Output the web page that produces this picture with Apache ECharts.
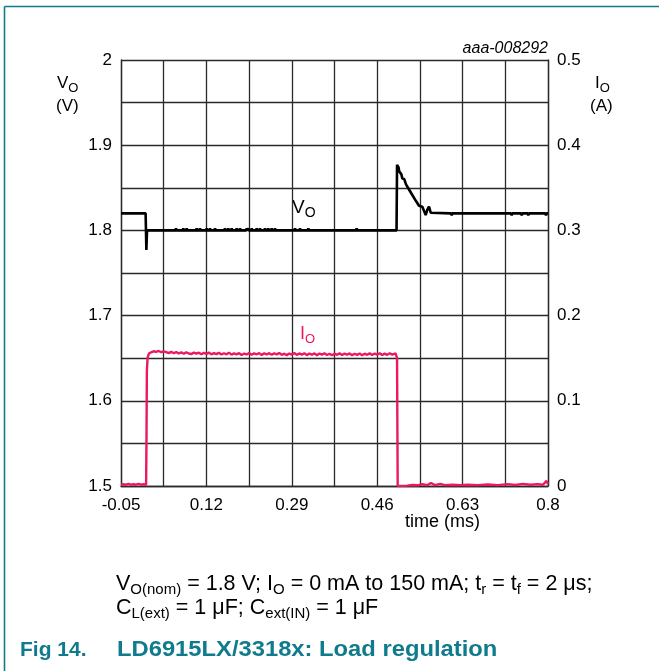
<!DOCTYPE html>
<html>
<head>
<meta charset="utf-8">
<script src="https://cdn.jsdelivr.net/npm/echarts@6/dist/echarts.min.js"></script>
<style>
html,body{margin:0;padding:0;background:#fff;}
#chart{width:659px;height:671px;}
</style>
</head>
<body>
<div id="chart"></div>
<script>
// ---- axis definitions ----
const xMin = -0.05, xMax = 0.8, xStep = 0.085;
const xTickLabels = ['-0.05', '0.12', '0.29', '0.46', '0.63', '0.8'];
const vMin = 1.5, vMax = 2.0, vStep = 0.05;
const vTickLabels = ['1.5', '1.6', '1.7', '1.8', '1.9', '2'];
const iMin = 0, iMax = 0.5, iStep = 0.05;
const iTickLabels = ['0', '0.1', '0.2', '0.3', '0.4', '0.5'];

// ---- V_O trace (time ms, volts) ----
const vOStart = [[-0.05, 1.82], [-0.001, 1.82], [0.0005, 1.777], [0.0018, 1.80], [0.05, 1.80]];
const vOBumpTimes = [0.0595, 0.074, 0.0808, 0.1007, 0.1073, 0.1206, 0.1272, 0.1372, 0.157, 0.1636,
  0.1704, 0.1803, 0.1869, 0.2002, 0.2034, 0.2102, 0.2201, 0.2267, 0.2367, 0.2432, 0.25, 0.2566,
  0.2964, 0.3063, 0.3229, 0.4192];
const vOBumpValue = 1.8025;
const vOTransient = [[0.4985, 1.80], [0.4995, 1.877], [0.5025, 1.874], [0.504, 1.869], [0.508, 1.866],
  [0.510, 1.861], [0.514, 1.860], [0.5173, 1.854], [0.5210, 1.852], [0.5233, 1.848], [0.5270, 1.8465],
  [0.5299, 1.8415], [0.5335, 1.840], [0.5366, 1.835], [0.5400, 1.8335], [0.5432, 1.829],
  [0.5498, 1.8279], [0.5565, 1.818], [0.5597, 1.824], [0.5631, 1.828], [0.5665, 1.8208]];
const vODipTimes = [0.6083, 0.7277, 0.7477, 0.7608, 0.796];
const vODipValue = 1.8175;
const vOLevelEnd = 1.82;

// ---- I_O trace (time ms, amps) ----
const iOData = [
  [-0.05, 0.0015], [-0.045, 0.002], [-0.04, 0.0015], [-0.035, 0.0025], [-0.03, 0.0015], [-0.025, 0.002],
  [-0.02, 0.0015], [-0.015, 0.0025], [-0.01, 0.0015], [-0.005, 0.002], [0.0, 0.0015],
  [0.0008, 0.06], [0.0015, 0.135], [0.003, 0.151], [0.006, 0.1558],
  [0.01, 0.1568], [0.015, 0.1582], [0.02, 0.1575], [0.025, 0.1585], [0.03, 0.1570], [0.035, 0.1580],
  [0.04, 0.1572], [0.045, 0.1560], [0.05, 0.1575], [0.055, 0.1558], [0.06, 0.1572], [0.065, 0.1555],
  [0.07, 0.1568], [0.075, 0.1552], [0.08, 0.1570], [0.085, 0.1555], [0.09, 0.1548], [0.095, 0.1566],
  [0.10, 0.1553], [0.105, 0.1565], [0.11, 0.1547], [0.115, 0.1562], [0.12, 0.1550], [0.125, 0.1566],
  [0.13, 0.1545], [0.135, 0.1560], [0.14, 0.1548], [0.145, 0.1563], [0.15, 0.1543], [0.155, 0.1558],
  [0.16, 0.1546], [0.165, 0.1565], [0.17, 0.1542], [0.175, 0.1556], [0.18, 0.1545], [0.185, 0.1560],
  [0.19, 0.1538], [0.195, 0.1555], [0.20, 0.1544], [0.205, 0.1562], [0.21, 0.1541], [0.215, 0.1556],
  [0.22, 0.1546], [0.225, 0.1560], [0.23, 0.1538], [0.235, 0.1557], [0.24, 0.1544], [0.245, 0.1559],
  [0.25, 0.1540], [0.255, 0.1556], [0.26, 0.1545], [0.265, 0.1562], [0.27, 0.1540], [0.275, 0.1553],
  [0.28, 0.1536], [0.285, 0.1555], [0.29, 0.1543], [0.295, 0.1560], [0.30, 0.1539], [0.305, 0.1556],
  [0.31, 0.1542], [0.315, 0.1558], [0.32, 0.1536], [0.325, 0.1554], [0.33, 0.1541], [0.335, 0.1557],
  [0.34, 0.1535], [0.345, 0.1555], [0.35, 0.1542], [0.355, 0.1558], [0.36, 0.1538], [0.365, 0.1552],
  [0.37, 0.1535], [0.375, 0.1553], [0.38, 0.1540], [0.385, 0.1557], [0.39, 0.1537], [0.395, 0.1554],
  [0.40, 0.1541], [0.405, 0.1556], [0.41, 0.1536], [0.415, 0.1552], [0.42, 0.1539], [0.425, 0.1556],
  [0.43, 0.1535], [0.435, 0.1553], [0.44, 0.1540], [0.445, 0.1557], [0.45, 0.1538], [0.455, 0.1555],
  [0.46, 0.1541], [0.465, 0.1558], [0.47, 0.1537], [0.475, 0.1554], [0.48, 0.1540], [0.485, 0.1558],
  [0.49, 0.1542], [0.4965, 0.1558], [0.4995, 0.150], [0.5008, 0.0],
  [0.52, 0.0005], [0.53, 0.0012], [0.54, 0.0008], [0.55, 0.002], [0.56, 0.001], [0.567, 0.0035],
  [0.575, 0.001], [0.585, 0.0025], [0.595, 0.001], [0.61, 0.0015], [0.625, 0.001], [0.64, 0.0015],
  [0.66, 0.001], [0.68, 0.0018], [0.70, 0.001], [0.72, 0.0022], [0.735, 0.0012], [0.75, 0.0025],
  [0.765, 0.0015], [0.78, 0.0022], [0.79, 0.0015], [0.797, 0.006], [0.8, 0.002]
];

// ---- build V_O series data ----
const vOData = [];
vOStart.forEach(p => vOData.push(p));
vOBumpTimes.forEach(t => {
  vOData.push([t - 0.0012, 1.80]);
  vOData.push([t, vOBumpValue]);
  vOData.push([t + 0.0012, 1.80]);
});
vOTransient.forEach(p => vOData.push(p));
vODipTimes.forEach(t => {
  vOData.push([t - 0.0012, vOLevelEnd]);
  vOData.push([t, vODipValue]);
  vOData.push([t + 0.0012, vOLevelEnd]);
});
vOData.push([xMax, vOLevelEnd]);

// x values shifted so the axis min is a multiple of the interval
const shift = v => +(v - xMin).toFixed(6);
const vOPlot = vOData.map(p => [shift(p[0]), p[1]]);
const iOPlot = iOData.map(p => [shift(p[0]), p[1]]);

const FONT = '"Liberation Sans", Arial, sans-serif';
const gridCol = '#2a2a2a';
const pink = '#eb1862';
const teal = '#0f7b8d';

const chart = echarts.init(document.getElementById('chart'));

function subText(x, y, main, sub, size, subSize, color) {
  return {
    type: 'text', left: x, top: y, silent: true,
    style: {
      text: '{m|' + main + '}{s|' + sub + '}',
      rich: {
        m: { fontSize: size, fontFamily: FONT, fill: color, lineHeight: size + 6, verticalAlign: 'middle' },
        s: { fontSize: subSize, fontFamily: FONT, fill: color, lineHeight: size + 6, verticalAlign: 'bottom' }
      }
    }
  };
}

const capRich = {
  m: { fontSize: 21.5, fontFamily: FONT, fill: '#000', lineHeight: 26, verticalAlign: 'middle' },
  s: { fontSize: 15, fontFamily: FONT, fill: '#000', lineHeight: 26, verticalAlign: 'bottom' }
};

const option = {
  backgroundColor: '#fff',
  animation: false,
  grid: { left: 121, top: 60, width: 427, height: 426, containLabel: false },
  xAxis: {
    type: 'value', min: 0, max: +(xMax - xMin).toFixed(6), interval: xStep,
    axisLine: { show: true, onZero: false, lineStyle: { color: gridCol, width: 1.3 } },
    axisTick: { show: false },
    splitLine: { show: true, lineStyle: { color: gridCol, width: 1.3 } },
    axisLabel: {
      margin: 11, fontSize: 17, fontFamily: FONT, color: '#000',
      formatter: v => { const k = Math.round(v / xStep); return k % 2 === 0 ? xTickLabels[k / 2] : ''; }
    }
  },
  yAxis: [
    {
      type: 'value', min: vMin, max: vMax, interval: vStep, position: 'left',
      axisLine: { show: true, lineStyle: { color: gridCol, width: 1.3 } },
      axisTick: { show: false },
      splitLine: { show: true, lineStyle: { color: gridCol, width: 1.3 } },
      axisLabel: {
        margin: 9, fontSize: 17, fontFamily: FONT, color: '#000',
        formatter: v => { const k = Math.round((v - vMin) / vStep); return k % 2 === 0 ? vTickLabels[k / 2] : ''; }
      }
    },
    {
      type: 'value', min: iMin, max: iMax, interval: iStep, position: 'right',
      axisLine: { show: true, lineStyle: { color: gridCol, width: 1.3 } },
      axisTick: { show: false },
      splitLine: { show: false },
      axisLabel: {
        margin: 9, fontSize: 17, fontFamily: FONT, color: '#000',
        formatter: v => { const k = Math.round((v - iMin) / iStep); return k % 2 === 0 ? iTickLabels[k / 2] : ''; }
      }
    }
  ],
  series: [
    {
      name: 'IO', type: 'line', yAxisIndex: 1, data: iOPlot, showSymbol: false, symbol: 'none',
      lineStyle: { color: pink, width: 2.4 }, z: 3
    },
    {
      name: 'VO', type: 'line', yAxisIndex: 0, data: vOPlot, showSymbol: false, symbol: 'none',
      lineStyle: { color: '#000', width: 2.6 }, z: 4
    }
  ],
  graphic: [
    { type: 'line', silent: true, shape: { x1: 4.5, y1: 6.5, x2: 659, y2: 6.5 }, style: { stroke: teal, lineWidth: 1.6 } },
    { type: 'line', silent: true, shape: { x1: 4.5, y1: 6.5, x2: 4.5, y2: 671 }, style: { stroke: teal, lineWidth: 1.6 } },
    { type: 'text', right: 111, top: 41, silent: true,
      style: { text: 'aaa-008292', fontSize: 16, fontStyle: 'italic', fontFamily: FONT, fill: '#000' } },
    subText(57, 75, 'V', 'O', 17, 13, '#000'),
    { type: 'text', left: 56, top: 98, silent: true, style: { text: '(V)', fontSize: 17, fontFamily: FONT, fill: '#000' } },
    subText(595, 75, 'I', 'O', 17, 13, '#000'),
    { type: 'text', left: 590, top: 98, silent: true, style: { text: '(A)', fontSize: 17, fontFamily: FONT, fill: '#000' } },
    { type: 'text', left: 405, top: 513, silent: true, style: { text: 'time (ms)', fontSize: 18, fontFamily: FONT, fill: '#000' } },
    subText(292, 198, 'V', 'O', 19, 14, '#000'),
    subText(300, 325, 'I', 'O', 18, 13, pink),
    {
      type: 'text', left: 116, top: 573, silent: true,
      style: { text: '{m|V}{s|O(nom)}{m| = 1.8 V; I}{s|O}{m| = 0 mA to 150 mA; t}{s|r}{m| = t}{s|f}{m| = 2 μs;}', rich: capRich }
    },
    {
      type: 'text', left: 116, top: 597, silent: true,
      style: { text: '{m|C}{s|L(ext)}{m| = 1 μF; C}{s|ext(IN)}{m| = 1 μF}', rich: capRich }
    },
    { type: 'text', left: 20, top: 640, silent: true,
      style: { text: 'Fig 14.', fontSize: 21, fontWeight: 'bold', fontFamily: FONT, fill: teal } },
    { type: 'text', left: 117, top: 639, scaleX: 1.08, silent: true,
      style: { text: 'LD6915LX/3318x: Load regulation', fontSize: 22, fontWeight: 'bold', fontFamily: FONT, fill: teal } }
  ]
};
chart.setOption(option);
</script>
</body>
</html>
